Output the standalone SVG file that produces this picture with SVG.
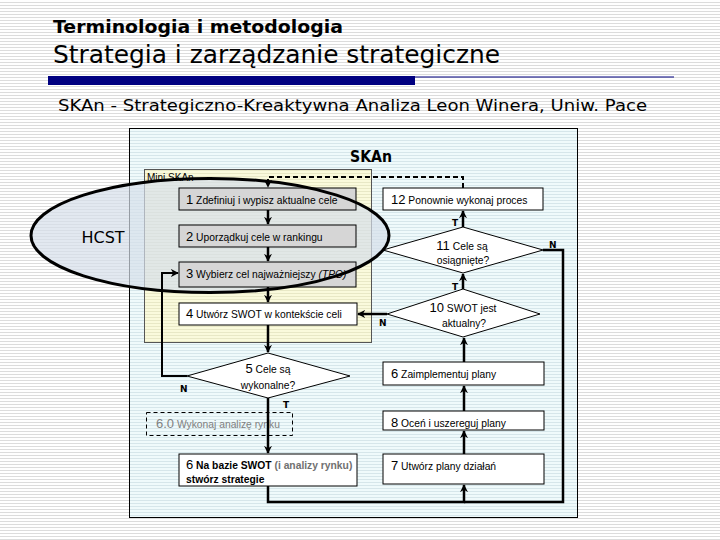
<svg xmlns="http://www.w3.org/2000/svg" width="720" height="540" viewBox="0 0 720 540">
<defs>
<pattern id="bgStripe" width="8" height="3" patternUnits="userSpaceOnUse"><rect width="8" height="3" fill="#ffffff"/><rect y="2" width="8" height="1" fill="#dcdcdc"/></pattern>
<pattern id="cStripe" width="8" height="3" patternUnits="userSpaceOnUse"><rect width="8" height="3" fill="#effafb"/><rect y="2" width="8" height="1" fill="#d6e6ea"/></pattern>
<pattern id="yStripe" width="8" height="3" patternUnits="userSpaceOnUse"><rect width="8" height="3" fill="#fafadc"/><rect y="2" width="8" height="1" fill="#e8e8c6"/></pattern>
<marker id="arr" viewBox="0 0 10 10" refX="9" refY="5" markerWidth="8" markerHeight="8" markerUnits="userSpaceOnUse" orient="auto"><path d="M0,0 L10,5 L0,10 L3,5 z" fill="#000"/></marker>
</defs>
<style>
.box{stroke:#000;stroke-width:1}
.g{fill:#d6d6d6}
.w{fill:#ffffff}
.t{font-family:"Liberation Sans",Arial,sans-serif;font-size:10.3px;fill:#000}
.n{font-size:13px}
.lbl{font-family:"DejaVu Sans",sans-serif;font-size:9px;font-weight:bold;fill:#000}
.ln{fill:none;stroke:#000;stroke-width:2.5}
.ln2{fill:none;stroke:#000;stroke-width:2}
</style>
<rect width="720" height="540" fill="url(#bgStripe)"/>

<g id="header">
<text x="53" y="33" font-family="DejaVu Sans,sans-serif" font-weight="bold" font-size="18" textLength="290" lengthAdjust="spacingAndGlyphs">Terminologia i metodologia</text>
<text x="53" y="63" font-family="DejaVu Sans,sans-serif" font-size="24" textLength="447" lengthAdjust="spacingAndGlyphs">Strategia i zarządzanie strategiczne</text>
<rect x="48" y="76" width="367" height="9" fill="#000080"/>
<line x1="415" y1="77" x2="674" y2="77" stroke="#000080" stroke-width="1.2"/>
<text x="58" y="111" font-family="DejaVu Sans,sans-serif" font-size="16" textLength="589" lengthAdjust="spacingAndGlyphs">SKAn - Strategiczno-Kreaktywna Analiza Leon Winera, Uniw. Pace</text>
</g>

<g id="container">
<rect x="129.5" y="128.5" width="448" height="389" fill="url(#cStripe)" stroke="#000" stroke-width="1"/>
<text x="350" y="162" font-family="DejaVu Sans,sans-serif" font-weight="bold" font-size="16" textLength="42" lengthAdjust="spacingAndGlyphs">SKAn</text>
</g>

<g id="miniSKAn">
<rect x="144.5" y="169.5" width="227" height="173" fill="url(#yStripe)" stroke="#555" stroke-width="1"/>
</g>

<g id="hcst-fill">
<ellipse cx="210" cy="235.5" rx="179" ry="57" fill="#d6deea" fill-opacity="0.7"/>
</g>

<text x="147" y="181" class="t" style="font-size:10px">Mini SKAn</text>

<g id="n1"><rect class="box g" x="179" y="188" width="177" height="22"/><text class="t" x="186" y="204"><tspan class="n">1</tspan> Zdefiniuj i wypisz aktualne cele</text></g>
<g id="n2"><rect class="box g" x="179" y="225" width="177" height="22"/><text class="t" x="186" y="241"><tspan class="n">2</tspan> Uporządkuj cele w rankingu</text></g>
<g id="n3"><rect class="box g" x="179" y="262" width="177" height="25"/><text class="t" x="186" y="278"><tspan class="n">3</tspan> Wybierz cel najważniejszy <tspan font-style="italic">(TPO)</tspan></text></g>
<g id="n4"><rect class="box w" x="179" y="303" width="178" height="22"/><text class="t" x="186" y="318"><tspan class="n">4</tspan> Utwórz SWOT w kontekście celi</text></g>
<g id="n5"><polygon class="box w" points="268,353 350,376 268,398 187,376"/><text class="t" x="268" y="373" text-anchor="middle"><tspan class="n">5</tspan> Cele są</text><text class="t" x="268" y="389" text-anchor="middle">wykonalne?</text></g>
<g id="n60"><rect x="146.5" y="412.5" width="146" height="23" fill="none" stroke="#000" stroke-width="1" stroke-dasharray="4,3"/><text class="t" x="156" y="428" style="fill:#808080"><tspan class="n">6.0</tspan> Wykonaj analizę rynku</text></g>
<g id="n6"><rect class="box w" x="179" y="454" width="178" height="32"/><text class="t" x="186" y="469" font-weight="bold"><tspan class="n" font-weight="normal">6</tspan> Na bazie SWOT <tspan style="fill:#707070">(i analizy rynku)</tspan></text><text class="t" x="186" y="483" font-weight="bold">stwórz strategie</text></g>

<g id="n12"><rect class="box w" x="383" y="188" width="160" height="22"/><text class="t" x="391" y="204"><tspan class="n">12</tspan> Ponownie wykonaj proces</text></g>
<g id="n11"><polygon class="box w" points="463,227 543,250 463,273 383,250"/><text class="t" x="462" y="250" text-anchor="middle"><tspan class="n">11</tspan> Cele są</text><text class="t" x="463" y="264" text-anchor="middle">osiągnięte?</text></g>
<g id="n10"><polygon class="box w" points="463,289 540,314 463,337 387,314"/><text class="t" x="463" y="312" text-anchor="middle"><tspan class="n">10</tspan> SWOT jest</text><text class="t" x="464" y="327" text-anchor="middle">aktualny?</text></g>
<g id="n6b"><rect class="box w" x="383" y="362" width="161" height="23"/><text class="t" x="391" y="378"><tspan class="n">6</tspan> Zaimplementuj plany</text></g>
<g id="n8"><rect class="box w" x="383" y="411" width="161" height="19"/><text class="t" x="391" y="427"><tspan class="n">8</tspan> Oceń i uszereguj plany</text></g>
<g id="n7"><rect class="box w" x="383" y="454" width="161" height="30"/><text class="t" x="391" y="470"><tspan class="n">7</tspan> Utwórz plany działań</text></g>

<g id="connectors">
<path class="ln2" d="M463,188 V177 H268 V187" stroke-dasharray="5,3" marker-end="url(#arr)"/>
<path class="ln" d="M268,210 V224" marker-end="url(#arr)"/>
<path class="ln" d="M268,247 V261" marker-end="url(#arr)"/>
<path class="ln" d="M268,287 V302" marker-end="url(#arr)"/>
<path class="ln" d="M268,325 V352" marker-end="url(#arr)"/>
<path class="ln" d="M268,398 V453" marker-end="url(#arr)"/>
<path class="ln2" d="M187,376 H162 V273 H178" marker-end="url(#arr)"/>
<path class="ln" d="M268,486 V502 H464 V485" marker-end="url(#arr)"/>
<path class="ln" d="M543,250 H563 V502 H464"/>
<path class="ln" d="M464,454 V431" marker-end="url(#arr)"/>
<path class="ln" d="M464,411 V386" marker-end="url(#arr)"/>
<path class="ln" d="M464,362 V338" marker-end="url(#arr)"/>
<path class="ln" d="M463,289 V274" marker-end="url(#arr)"/>
<path class="ln" d="M463,227 V211" marker-end="url(#arr)"/>
<path class="ln" d="M387,314 H358" marker-end="url(#arr)"/>
</g>

<g id="labels">
<text class="lbl" x="283" y="408">T</text>
<text class="lbl" x="180" y="392">N</text>
<text class="lbl" x="379" y="326">N</text>
<text class="lbl" x="452" y="226">T</text>
<text class="lbl" x="452" y="290">T</text>
<text class="lbl" x="549" y="248">N</text>
</g>

<g id="hcst">
<ellipse cx="210" cy="235.5" rx="179" ry="57" fill="none" stroke="#000" stroke-width="3"/>
<text x="103" y="243" text-anchor="middle" font-family="DejaVu Sans,sans-serif" font-size="16">HCST</text>
</g>
</svg>
